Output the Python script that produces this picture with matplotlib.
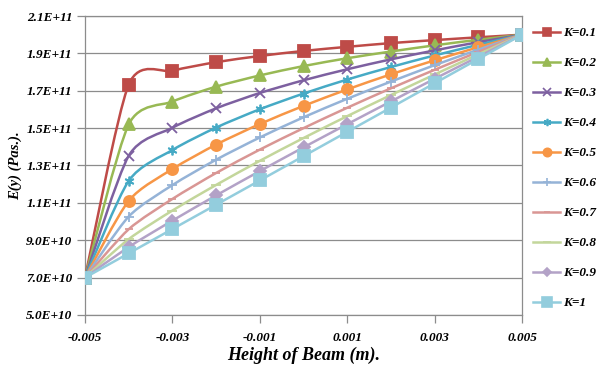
import numpy as np
import matplotlib
matplotlib.use('Agg')
import matplotlib.pyplot as plt
from matplotlib.path import Path
from matplotlib.patches import PathPatch
from matplotlib.lines import Line2D
from matplotlib.ticker import FuncFormatter

# height of beam (m)
y_pos = [-0.005, -0.004, -0.003, -0.002, -0.001, 0.0, 0.001, 0.002, 0.003, 0.004, 0.005]

# E(y) in units of 1E+10 Pa
E_k01 = [7.0, 17.33, 18.07, 18.53, 18.86, 19.13, 19.35, 19.55, 19.71, 19.86, 20.0]
E_k02 = [7.0, 15.20, 16.42, 17.22, 17.82, 18.32, 18.74, 19.10, 19.43, 19.73, 20.0]
E_k03 = [7.0, 13.52, 15.02, 16.06, 16.88, 17.56, 18.15, 18.68, 19.16, 19.60, 20.0]
E_k04 = [7.0, 12.18, 13.83, 15.03, 16.01, 16.85, 17.60, 18.27, 18.89, 19.46, 20.0]
E_k05 = [7.0, 11.11, 12.81, 14.12, 15.22, 16.19, 17.07, 17.88, 18.63, 19.33, 20.0]
E_k06 = [7.0, 10.27, 11.95, 13.31, 14.50, 15.58, 16.57, 17.49, 18.37, 19.20, 20.0]
E_k07 = [7.0, 9.59, 11.21, 12.60, 13.85, 15.00, 16.09, 17.13, 18.12, 19.08, 20.0]
E_k08 = [7.0, 9.06, 10.59, 11.96, 13.25, 14.47, 15.64, 16.77, 17.87, 18.95, 20.0]
E_k09 = [7.0, 8.64, 10.05, 11.40, 12.70, 13.97, 15.21, 16.43, 17.64, 18.82, 20.0]
E_k10 = [7.0, 8.30, 9.60, 10.90, 12.20, 13.50, 14.80, 16.10, 17.40, 18.70, 20.0]

labels = ['K=0.1', 'K=0.2', 'K=0.3', 'K=0.4', 'K=0.5',
          'K=0.6', 'K=0.7', 'K=0.8', 'K=0.9', 'K=1']
series = [E_k01, E_k02, E_k03, E_k04, E_k05, E_k06, E_k07, E_k08, E_k09, E_k10]

colors = ['#BE4B48', '#98B954', '#7D60A0', '#46AAC5', '#F79646',
          '#95B3D7', '#D99694', '#C3D69B', '#B3A2C7', '#93CDDD']
markers = ['s', '^', 'x', (6, 2, 0), 'o', '+', '_', '_', 'D', 's']
msizes = [8, 8, 7, 7, 8, 7, 6, 7, 6, 9]

font = {'family': 'Liberation Serif', 'weight': 'bold', 'style': 'italic'}


def smooth_path(xs, ys, k=8.0):
    # Excel-like smoothed line (cardinal spline as cubic Bezier)
    pts = np.column_stack([xs, ys])
    n = len(pts)
    verts = [pts[0]]
    codes = [Path.MOVETO]
    for i in range(n - 1):
        p0 = pts[max(i - 1, 0)]
        p1 = pts[i]
        p2 = pts[i + 1]
        p3 = pts[min(i + 2, n - 1)]
        c1 = p1 + (p2 - p0) / k
        c2 = p2 - (p3 - p1) / k
        verts += [c1, c2, p2]
        codes += [Path.CURVE4] * 3
    return Path(verts, codes)


fig = plt.figure(figsize=(6.06, 3.67), dpi=100)
ax = fig.add_axes([0.1403, 0.1417, 0.7211, 0.8147])

handles = []
for i, (vals, lab) in enumerate(zip(series, labels)):
    yv = np.array(vals) * 1e10
    patch = PathPatch(smooth_path(y_pos, yv), fill=False, edgecolor=colors[i],
                      lw=1.8, zorder=3 + i)
    ax.add_patch(patch)
    ax.plot(y_pos, yv, linestyle='none', marker=markers[i], ms=msizes[i],
            color=colors[i], mec=colors[i], mew=1.3, zorder=3 + i)
    handles.append(Line2D([], [], color=colors[i], lw=1.8, marker=markers[i],
                          ms=msizes[i] * 0.75, mew=1.2, label=lab))

ax.set_xlim(-0.005, 0.005)
ax.set_ylim(5e10, 2.1e11)
ax.set_xticks(np.arange(-0.005, 0.0051, 0.002))
ax.set_yticks(np.arange(5e10, 2.11e11, 2e10))
ax.xaxis.set_major_formatter(FuncFormatter(lambda v, p: f'{v:.3f}'))
ax.yaxis.set_major_formatter(FuncFormatter(lambda v, p: f'{v:.1E}'))
ax.grid(axis='y', color='#8C8C8C', lw=0.9)
ax.set_axisbelow(True)
for s in ax.spines.values():
    s.set_color('#8C8C8C')
    s.set_linewidth(0.9)
ax.tick_params(axis='both', color='#8C8C8C', length=6, width=0.9, pad=3)
for t in ax.get_xticklabels() + ax.get_yticklabels():
    t.set_fontfamily('Liberation Serif')
    t.set_fontweight('bold')
    t.set_fontstyle('italic')
    t.set_fontsize(9.5)
ax.tick_params(axis='x', pad=6)

ax.set_xlabel('Height of Beam (m).', fontsize=13, labelpad=2, **font)
ax.set_ylabel('E(y) (Pas.).', fontsize=10.5, labelpad=3, **font)

fig.legend(handles=handles, loc='upper left', bbox_to_anchor=(0.8795, 0.926),
           frameon=False, handlelength=2.05, handletextpad=0.2, labelspacing=1.345,
           prop={'family': 'Liberation Serif', 'weight': 'bold', 'style': 'italic',
                 'size': 9.5}, borderaxespad=0, borderpad=0)

fig.savefig('out.png', dpi=100)
